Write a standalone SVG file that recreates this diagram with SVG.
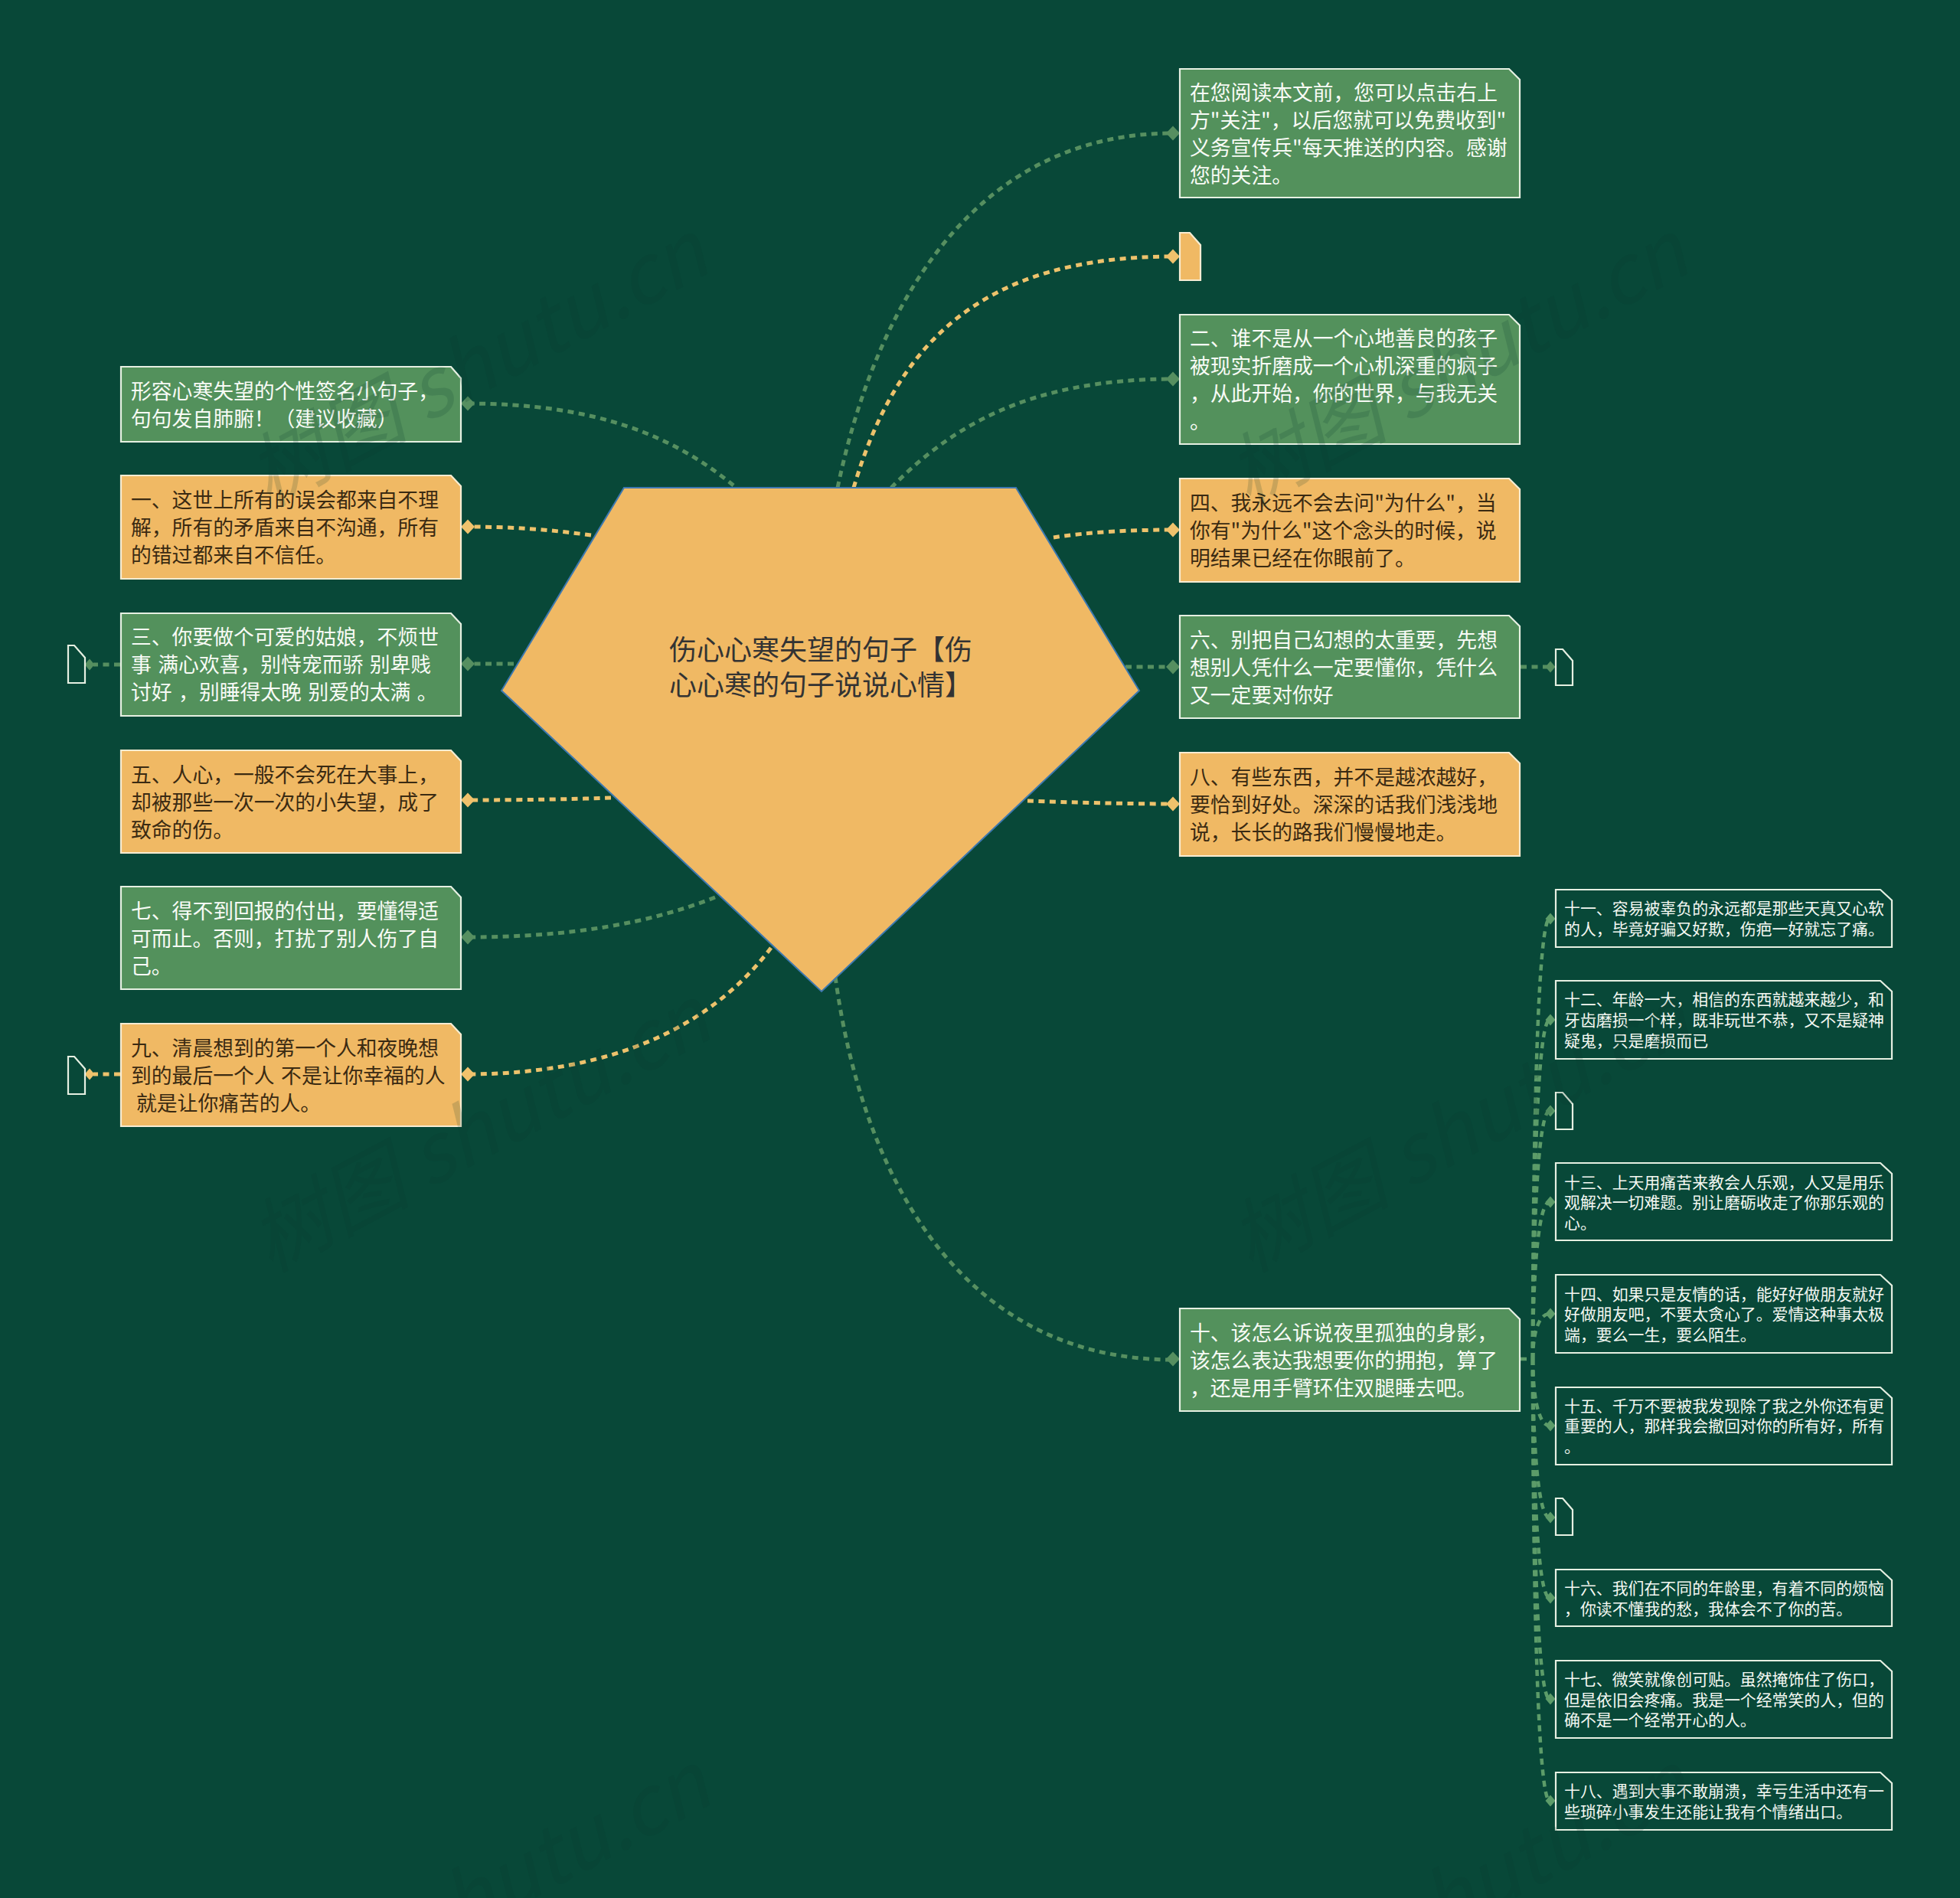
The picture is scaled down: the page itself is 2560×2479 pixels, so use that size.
<svg xmlns="http://www.w3.org/2000/svg" width="2560" height="2479" viewBox="0 0 2560 2479">
<style>
text{font-family:"Noto Sans CJK SC","Noto Sans",sans-serif}
.t{font-size:26.8px;transform:translateY(1px);word-spacing:2.5px}
.s{font-size:20.9px;fill:#f4f8f2}
.w{fill:#f8fbf6}
.k{fill:#3a2a12}
.g{fill:#53915c;stroke:#e6f0e2;stroke-width:2.2}
.o{fill:#f0b964;stroke:#f7ecd2;stroke-width:2.2}
.n{fill:#084838;stroke:#e6f0e2;stroke-width:2.2}
.lg,.lo,.ls{fill:none;stroke-width:5;stroke-dasharray:8 6.5}
.lg{stroke:#568f60}
.lo{stroke:#edc26c}
.ls{stroke:#5c9c69;stroke-width:4.5}
.dg{fill:#568f60}
.do{fill:#f0c26c}
.ds{fill:#5c9c69}
.wm{font-size:105px;font-style:italic;fill:#08382c;opacity:.16;text-anchor:middle}
</style>
<defs>
<polygon id="dm" points="0,-9.5 9,0 0,9.5 -9,0"/>
<polygon id="dn" points="0,-7.5 6.5,0 0,7.5 -6.5,0"/>
</defs>
<rect width="2560" height="2479" fill="#084838"/>
<g id="connectors">
<path class="lg" d="M1094 637C1150 370 1290 174 1532 174"/>
<path class="lo" d="M1115 637C1170 450 1280 335 1532 335"/>
<path class="lg" d="M1164 637C1240 560 1340 495 1532 495"/>
<path class="lo" d="M1376 702C1420 695 1480 692 1532 692"/>
<path class="lg" d="M1470 871L1532 871"/>
<path class="lo" d="M1342 1046C1400 1048 1470 1050 1532 1050"/>
<path class="lg" d="M1091 1276C1130 1560 1270 1776 1532 1776"/>
<path class="lg" d="M958 634C880 570 780 527 610 527"/>
<path class="lo" d="M772 699C720 692 670 688 610 688"/>
<path class="lg" d="M671 867L610 867"/>
<path class="lo" d="M798 1042C740 1044 680 1045 610 1045"/>
<path class="lg" d="M934 1172C850 1205 750 1224 610 1224"/>
<path class="lo" d="M1007 1238C930 1340 800 1403 610 1403"/>
<path class="lg" d="M157 868L122 868"/>
<path class="lo" d="M157 1403L122 1403"/>
<path class="lg" d="M1986 871L2022 871"/>
<path class="ls" d="M1986 1775L2002 1775"/>
<path class="ls" d="M2002 1775C2002 1499 2008 1200 2024 1200"/>
<path class="ls" d="M2002 1775C2002 1562 2008 1332 2024 1332"/>
<path class="ls" d="M2002 1775C2002 1620 2008 1451 2024 1451"/>
<path class="ls" d="M2002 1775C2002 1678 2008 1570 2024 1570"/>
<path class="ls" d="M2002 1775C2002 1747 2008 1716 2024 1716"/>
<path class="ls" d="M2002 1775C2002 1817 2008 1862 2024 1862"/>
<path class="ls" d="M2002 1775C2002 1875 2008 1982 2024 1982"/>
<path class="ls" d="M2002 1775C2002 1925 2008 2087 2024 2087"/>
<path class="ls" d="M2002 1775C2002 1987 2008 2219 2024 2219"/>
<path class="ls" d="M2002 1775C2002 2051 2008 2352 2024 2352"/>
</g>
<g id="root">
<polygon points="815,637 1327,637 1488,902 1073,1295 655,902" fill="#f0b964" stroke="#3d78b0" stroke-width="2"/>
<text x="874" y="862" font-size="36" fill="#333">伤心心寒失望的句子【伤</text>
<text x="874" y="908" font-size="36" fill="#333">心心寒的句子说说心情】</text>
</g>
<g id="n1"><use href="#dm" x="1532" y="174" class="dg"/><polygon class="g" points="1541,90 1971,90 1985,104 1985,258 1541,258"/>
<text class="t w" x="1554" y="130">在您阅读本文前，您可以点击右上</text><text class="t w" x="1554" y="166">方"关注"，以后您就可以免费收到"</text><text class="t w" x="1554" y="202">义务宣传兵"每天推送的内容。感谢</text><text class="t w" x="1554" y="238">您的关注。</text></g>
<g id="n1b"><use href="#dm" x="1532" y="335" class="do"/><polygon class="o" points="1541,304 1554,304 1568,320 1568,366 1541,366"/></g>
<g id="n2"><use href="#dm" x="1532" y="495" class="dg"/><polygon class="g" points="1541,411 1971,411 1985,425 1985,580 1541,580"/>
<text class="t w" x="1554" y="451">二、谁不是从一个心地善良的孩子</text><text class="t w" x="1554" y="487">被现实折磨成一个心机深重的疯子</text><text class="t w" x="1554" y="523">，从此开始，你的世界，与我无关</text><text class="t w" x="1554" y="559">。</text></g>
<g id="n4"><use href="#dm" x="1532" y="692" class="do"/><polygon class="o" points="1541,625 1971,625 1985,639 1985,760 1541,760"/>
<text class="t k" x="1554" y="666">四、我永远不会去问"为什么"，当</text><text class="t k" x="1554" y="702">你有"为什么"这个念头的时候，说</text><text class="t k" x="1554" y="738">明结果已经在你眼前了。</text></g>
<g id="n6"><use href="#dm" x="1532" y="871" class="dg"/><polygon class="g" points="1541,804 1971,804 1985,818 1985,938 1541,938"/>
<text class="t w" x="1554" y="845">六、别把自己幻想的太重要，先想</text><text class="t w" x="1554" y="881">想别人凭什么一定要懂你，凭什么</text><text class="t w" x="1554" y="917">又一定要对你好</text></g>
<g id="n6b"><use href="#dn" x="2025" y="871" class="dg"/><polygon class="n" points="2032,848 2041,848 2054,863 2054,895 2032,895"/></g>
<g id="n8"><use href="#dm" x="1532" y="1050" class="do"/><polygon class="o" points="1541,983 1971,983 1985,997 1985,1118 1541,1118"/>
<text class="t k" x="1554" y="1024">八、有些东西，并不是越浓越好，</text><text class="t k" x="1554" y="1060">要恰到好处。深深的话我们浅浅地</text><text class="t k" x="1554" y="1096">说，长长的路我们慢慢地走。</text></g>
<g id="n10"><use href="#dm" x="1532" y="1775" class="dg"/><polygon class="g" points="1541,1709 1971,1709 1985,1723 1985,1843 1541,1843"/>
<text class="t w" x="1554" y="1750">十、该怎么诉说夜里孤独的身影，</text><text class="t w" x="1554" y="1786">该怎么表达我想要你的拥抱，算了</text><text class="t w" x="1554" y="1822">，还是用手臂环住双腿睡去吧。</text></g>
<g id="l0"><use href="#dm" x="611" y="527" class="dg"/><polygon class="g" points="158,479 589,479 602,494 602,577 158,577"/>
<text class="t w" x="171" y="520">形容心寒失望的个性签名小句子，</text><text class="t w" x="171" y="556">句句发自肺腑！（建议收藏）</text></g>
<g id="l1"><use href="#dm" x="611" y="688" class="do"/><polygon class="o" points="158,621 589,621 602,635 602,756 158,756"/>
<text class="t k" x="171" y="662">一、这世上所有的误会都来自不理</text><text class="t k" x="171" y="698">解，所有的矛盾来自不沟通，所有</text><text class="t k" x="171" y="734">的错过都来自不信任。</text></g>
<g id="l3"><use href="#dm" x="611" y="867" class="dg"/><polygon class="g" points="158,801 589,801 602,815 602,935 158,935"/>
<text class="t w" x="171" y="841">三、你要做个可爱的姑娘，不烦世</text><text class="t w" x="171" y="877">事 满心欢喜，别恃宠而骄 别卑贱</text><text class="t w" x="171" y="913">讨好 ，别睡得太晚 别爱的太满 。</text></g>
<g id="l3b"><use href="#dn" x="117" y="868" class="dg"/><polygon class="n" points="89,843 97,843 111,859 111,892 89,892"/></g>
<g id="l5"><use href="#dm" x="611" y="1045" class="do"/><polygon class="o" points="158,980 589,980 602,994 602,1114 158,1114"/>
<text class="t k" x="171" y="1021">五、人心，一般不会死在大事上，</text><text class="t k" x="171" y="1057">却被那些一次一次的小失望，成了</text><text class="t k" x="171" y="1093">致命的伤。</text></g>
<g id="l7"><use href="#dm" x="611" y="1224" class="dg"/><polygon class="g" points="158,1158 589,1158 602,1172 602,1292 158,1292"/>
<text class="t w" x="171" y="1199">七、得不到回报的付出，要懂得适</text><text class="t w" x="171" y="1235">可而止。否则，打扰了别人伤了自</text><text class="t w" x="171" y="1271">己。</text></g>
<g id="l9"><use href="#dm" x="611" y="1403" class="do"/><polygon class="o" points="158,1337 589,1337 602,1351 602,1471 158,1471"/>
<text class="t k" x="171" y="1378">九、清晨想到的第一个人和夜晚想</text><text class="t k" x="171" y="1414">到的最后一个人 不是让你幸福的人</text><text class="t k" x="178" y="1450">就是让你痛苦的人。</text></g>
<g id="l9b"><use href="#dn" x="117" y="1403" class="do"/><polygon class="n" points="89,1380 97,1380 111,1396 111,1429 89,1429"/></g>
<g id="s11"><use href="#dn" x="2025" y="1200" class="ds"/><polygon class="n" points="2032,1162 2456,1162 2471,1176 2471,1237 2032,1237"/>
<text class="s" x="2043" y="1194">十一、容易被辜负的永远都是那些天真又心软</text><text class="s" x="2043" y="1221">的人，毕竟好骗又好欺，伤疤一好就忘了痛。</text></g>
<g id="s12"><use href="#dn" x="2025" y="1332" class="ds"/><polygon class="n" points="2032,1281 2456,1281 2471,1295 2471,1383 2032,1383"/>
<text class="s" x="2043" y="1313">十二、年龄一大，相信的东西就越来越少，和</text><text class="s" x="2043" y="1340">牙齿磨损一个样，既非玩世不恭，又不是疑神</text><text class="s" x="2043" y="1367">疑鬼，只是磨损而已</text></g>
<g id="s12b"><use href="#dn" x="2025" y="1451" class="ds"/><polygon class="n" points="2032,1427 2041,1427 2054,1442 2054,1475 2032,1475"/></g>
<g id="s13"><use href="#dn" x="2025" y="1570" class="ds"/><polygon class="n" points="2032,1519 2456,1519 2471,1533 2471,1620 2032,1620"/>
<text class="s" x="2043" y="1552">十三、上天用痛苦来教会人乐观，人又是用乐</text><text class="s" x="2043" y="1578">观解决一切难题。别让磨砺收走了你那乐观的</text><text class="s" x="2043" y="1605">心。</text></g>
<g id="s14"><use href="#dn" x="2025" y="1716" class="ds"/><polygon class="n" points="2032,1665 2456,1665 2471,1679 2471,1767 2032,1767"/>
<text class="s" x="2043" y="1698">十四、如果只是友情的话，能好好做朋友就好</text><text class="s" x="2043" y="1724">好做朋友吧，不要太贪心了。爱情这种事太极</text><text class="s" x="2043" y="1751">端，要么一生，要么陌生。</text></g>
<g id="s15"><use href="#dn" x="2025" y="1862" class="ds"/><polygon class="n" points="2032,1812 2456,1812 2471,1826 2471,1913 2032,1913"/>
<text class="s" x="2043" y="1844">十五、千万不要被我发现除了我之外你还有更</text><text class="s" x="2043" y="1870">重要的人，那样我会撤回对你的所有好，所有</text><text class="s" x="2043" y="1897">。</text></g>
<g id="s15b"><use href="#dn" x="2025" y="1982" class="ds"/><polygon class="n" points="2032,1957 2041,1957 2054,1972 2054,2005 2032,2005"/></g>
<g id="s16"><use href="#dn" x="2025" y="2087" class="ds"/><polygon class="n" points="2032,2050 2456,2050 2471,2064 2471,2124 2032,2124"/>
<text class="s" x="2043" y="2082">十六、我们在不同的年龄里，有着不同的烦恼</text><text class="s" x="2043" y="2109">，你读不懂我的愁，我体会不了你的苦。</text></g>
<g id="s17"><use href="#dn" x="2025" y="2219" class="ds"/><polygon class="n" points="2032,2169 2456,2169 2471,2183 2471,2270 2032,2270"/>
<text class="s" x="2043" y="2201">十七、微笑就像创可贴。虽然掩饰住了伤口，</text><text class="s" x="2043" y="2228">但是依旧会疼痛。我是一个经常笑的人，但的</text><text class="s" x="2043" y="2254">确不是一个经常开心的人。</text></g>
<g id="s18"><use href="#dn" x="2025" y="2352" class="ds"/><polygon class="n" points="2032,2315 2456,2315 2471,2329 2471,2390 2032,2390"/>
<text class="s" x="2043" y="2347">十八、遇到大事不敢崩溃，幸亏生活中还有一</text><text class="s" x="2043" y="2374">些琐碎小事发生还能让我有个情绪出口。</text></g>
<g id="watermarks">
<text class="wm" transform="translate(641,508) rotate(-28)">树图 shutu.cn</text>
<text class="wm" transform="translate(1921,508) rotate(-28)">树图 shutu.cn</text>
<text class="wm" transform="translate(644,1508) rotate(-28)">树图 shutu.cn</text>
<text class="wm" transform="translate(1924,1508) rotate(-28)">树图 shutu.cn</text>
<text class="wm" transform="translate(644,2508) rotate(-28)">树图 shutu.cn</text>
<text class="wm" transform="translate(1924,2508) rotate(-28)">树图 shutu.cn</text>
</g>
</svg>
